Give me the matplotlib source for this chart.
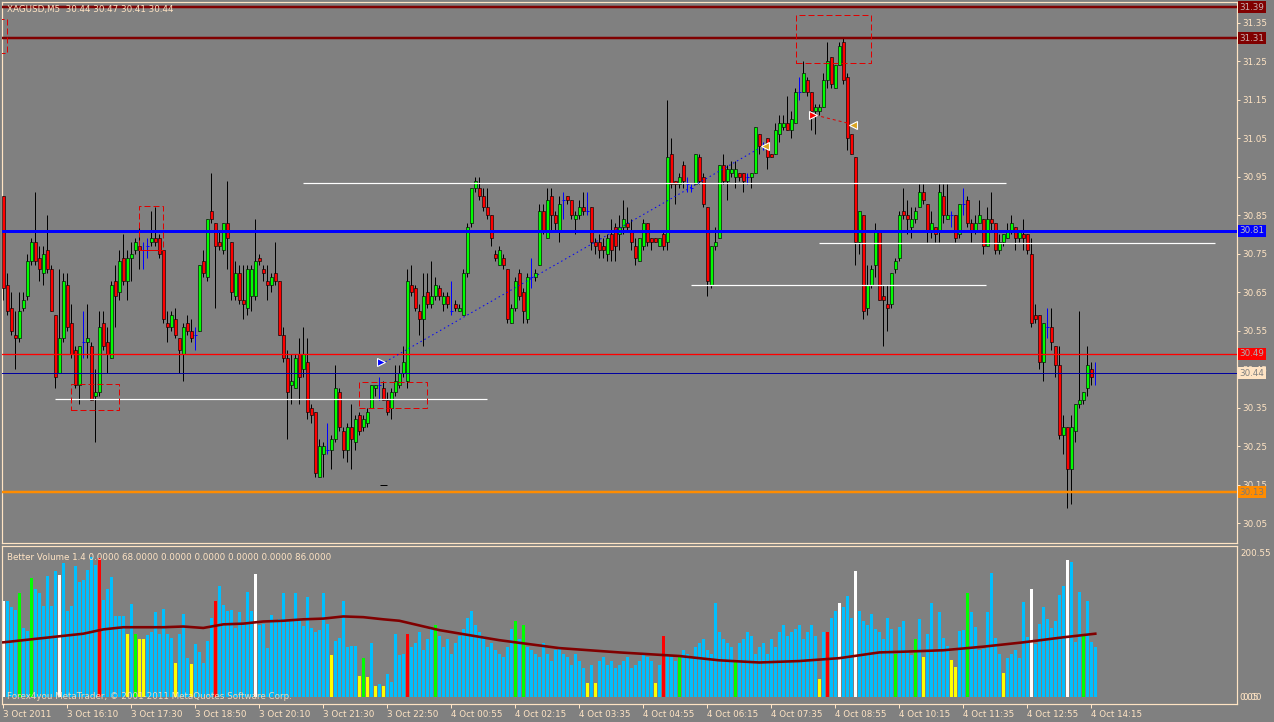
import matplotlib
matplotlib.use('Agg')
import matplotlib.pyplot as plt
from matplotlib.transforms import blended_transform_factory
from matplotlib.patches import Rectangle

# ---------------- DATA ----------------
opens = [30.90,30.67,30.61,30.54,30.53,30.61,30.64,30.73,30.78,30.74,
         30.70,30.76,30.71,30.59,30.44,30.53,30.67,30.57,30.50,30.41,
         30.52,30.52,30.51,30.38,30.39,30.57,30.52,30.48,30.68,30.65,
         30.74,30.68,30.74,30.76,30.77,30.76,30.77,30.78,30.79,30.79,
         30.76,30.57,30.56,30.58,30.53,30.49,30.57,30.55,30.54,30.55,
         30.73,30.69,30.86,30.83,30.78,30.76,30.83,30.78,30.64,30.70,
         30.63,30.61,30.64,30.64,30.74,30.71,30.68,30.67,30.70,30.68,
         30.54,30.48,30.41,30.40,30.49,30.45,30.47,30.35,30.34,30.17,
         30.23,30.24,30.24,30.27,30.39,30.29,30.24,30.30,30.26,30.33,
         30.30,30.31,30.35,30.40,30.41,30.40,30.37,30.35,30.39,30.41,
         30.44,30.42,30.67,30.66,30.60,30.58,30.65,30.62,30.64,30.66,
         30.62,30.64,30.60,30.62,30.60,30.59,30.70,30.83,30.92,30.92,
         30.90,30.87,30.85,30.75,30.72,30.74,30.71,30.57,30.61,30.70,
         30.65,30.58,30.69,30.69,30.72,30.86,30.79,30.90,30.85,30.81,
         30.89,30.90,30.89,30.84,30.85,30.87,30.86,30.87,30.78,30.78,
         30.77,30.75,30.80,30.82,30.80,30.82,30.83,30.81,30.77,30.73,
         30.77,30.83,30.79,30.79,30.77,30.80,30.78,31.01,30.94,30.93,
         30.98,30.93,30.92,30.93,31.00,30.95,30.87,30.67,30.77,30.79,
         30.98,30.94,30.96,30.95,30.96,30.96,30.95,30.95,30.96,31.06,
         31.03,31.05,31.01,31.01,31.06,31.08,31.09,31.07,31.09,31.17,
         31.17,31.20,31.17,31.12,31.12,31.13,31.20,31.26,31.18,31.24,
         31.30,31.21,31.06,31.00,30.78,30.85,30.61,30.67,30.72,30.81,
         30.64,30.62,30.62,30.71,30.74,30.86,30.85,30.82,30.84,30.87,
         30.91,30.88,30.81,30.82,30.81,30.90,30.84,30.85,30.85,30.80,
         30.88,30.89,30.83,30.81,30.83,30.84,30.77,30.84,30.83,30.76,
         30.78,30.79,30.81,30.82,30.79,30.80,30.80,30.75,30.59,30.59,
         30.47,30.56,30.56,30.51,30.46,30.28,30.30,30.19,30.29,30.36,
         30.37,30.40,30.45,30.44]
highs = [30.90,30.70,30.65,30.60,30.65,30.65,30.75,30.79,30.91,30.77,
         30.77,30.85,30.72,30.59,30.71,30.70,30.70,30.62,30.51,30.51,
         30.60,30.62,30.52,30.45,30.60,30.60,30.56,30.68,30.72,30.76,
         30.80,30.76,30.78,30.79,30.83,30.78,30.79,30.86,30.87,30.80,
         30.76,30.60,30.60,30.61,30.53,30.57,30.59,30.58,30.56,30.72,
         30.76,30.84,30.96,30.83,30.81,30.83,30.94,30.78,30.73,30.72,
         30.72,30.72,30.72,30.84,30.75,30.72,30.72,30.70,30.78,30.68,
         30.56,30.50,30.49,30.49,30.53,30.56,30.53,30.36,30.34,30.27,
         30.26,30.31,30.28,30.46,30.40,30.30,30.31,30.36,30.33,30.34,
         30.33,30.35,30.41,30.41,30.43,30.42,30.39,30.40,30.46,30.46,
         30.51,30.71,30.72,30.67,30.62,30.70,30.70,30.73,30.69,30.67,
         30.65,30.65,30.68,30.63,30.62,30.71,30.83,30.92,30.95,30.95,
         30.92,30.92,30.85,30.76,30.77,30.75,30.71,30.62,30.69,30.71,
         30.66,30.70,30.74,30.71,30.88,30.88,30.92,30.92,30.86,30.90,
         30.91,30.90,30.89,30.86,30.89,30.91,30.91,30.87,30.79,30.80,
         30.79,30.80,30.84,30.83,30.85,30.89,30.87,30.84,30.79,30.79,
         30.84,30.83,30.79,30.79,30.79,30.81,31.15,31.05,30.94,30.96,
         30.99,30.95,30.93,31.01,31.01,30.96,30.87,30.77,30.82,30.98,
         31.01,30.98,30.99,30.99,30.96,30.96,30.96,30.96,31.08,31.06,
         31.04,31.05,31.01,31.09,31.11,31.11,31.16,31.12,31.18,31.21,
         31.25,31.21,31.17,31.14,31.14,31.22,31.30,31.26,31.24,31.30,
         31.31,31.22,31.06,31.00,30.86,30.85,30.72,30.72,30.83,30.81,
         30.67,30.67,30.70,30.74,30.86,30.92,30.89,30.87,30.87,30.93,
         30.93,30.88,30.86,30.82,30.93,30.93,30.93,30.86,30.85,30.88,
         30.92,30.90,30.84,30.85,30.89,30.84,30.87,30.91,30.83,30.80,
         30.80,30.83,30.85,30.82,30.81,30.84,30.80,30.79,30.62,30.59,
         30.57,30.61,30.61,30.51,30.51,30.33,30.30,30.33,30.36,30.60,
         30.39,30.51,30.47,30.47]
lows = [30.63,30.59,30.54,30.45,30.52,30.60,30.63,30.72,30.72,30.68,
        30.67,30.70,30.60,30.40,30.44,30.52,30.55,30.48,30.40,30.36,
        30.48,30.48,30.37,30.26,30.38,30.50,30.44,30.48,30.56,30.63,
        30.67,30.63,30.68,30.75,30.71,30.71,30.74,30.77,30.77,30.74,
        30.57,30.52,30.55,30.53,30.44,30.42,30.54,30.52,30.50,30.55,
        30.69,30.68,30.83,30.61,30.76,30.75,30.71,30.63,30.63,30.62,
        30.58,30.59,30.60,30.63,30.72,30.68,30.63,30.65,30.67,30.54,
        30.47,30.27,30.36,30.40,30.36,30.43,30.32,30.31,30.17,30.17,
        30.17,30.23,30.19,30.26,30.29,30.22,30.21,30.19,30.24,30.28,
        30.29,30.30,30.35,30.38,30.37,30.37,30.33,30.32,30.38,30.40,
        30.43,30.40,30.64,30.60,30.54,30.51,30.61,30.61,30.63,30.63,
        30.60,30.61,30.59,30.60,30.60,30.59,30.69,30.82,30.91,30.89,
        30.86,30.84,30.77,30.73,30.72,30.71,30.57,30.57,30.60,30.63,
        30.57,30.57,30.66,30.68,30.72,30.80,30.79,30.81,30.81,30.78,
        30.84,30.88,30.84,30.80,30.84,30.85,30.85,30.76,30.75,30.74,
        30.74,30.73,30.73,30.73,30.76,30.80,30.81,30.76,30.72,30.73,
        30.76,30.77,30.76,30.78,30.77,30.76,30.76,30.92,30.88,30.92,
        30.92,30.91,30.91,30.93,30.93,30.87,30.64,30.66,30.76,30.79,
        30.93,30.89,30.95,30.92,30.94,30.91,30.93,30.92,30.96,31.01,
        31.02,30.97,31.00,31.01,31.04,31.07,31.07,31.05,31.09,31.15,
        31.17,31.16,31.07,31.06,31.11,31.13,31.18,31.18,31.18,31.24,
        31.19,31.02,31.01,30.72,30.75,30.58,30.59,30.66,30.69,30.63,
        30.51,30.55,30.61,30.70,30.73,30.84,30.80,30.79,30.83,30.87,
        30.88,30.78,30.79,30.78,30.78,30.83,30.84,30.82,30.78,30.79,
        30.85,30.82,30.78,30.80,30.83,30.75,30.77,30.81,30.75,30.75,
        30.77,30.79,30.80,30.76,30.78,30.76,30.75,30.56,30.57,30.45,
        30.42,30.53,30.50,30.43,30.27,30.23,30.09,30.10,30.26,30.35,
        30.36,30.38,30.41,30.41]
closes = [30.66,30.60,30.55,30.53,30.60,30.63,30.73,30.78,30.73,30.71,
          30.75,30.71,30.60,30.43,30.53,30.68,30.56,30.49,30.41,30.51,
          30.52,30.53,30.37,30.39,30.56,30.51,30.49,30.67,30.64,30.73,
          30.68,30.74,30.75,30.78,30.76,30.76,30.77,30.79,30.78,30.75,
          30.58,30.56,30.59,30.54,30.50,30.56,30.55,30.53,30.54,30.72,
          30.70,30.84,30.84,30.77,30.77,30.83,30.79,30.65,30.70,30.63,
          30.62,30.71,30.71,30.73,30.73,30.70,30.67,30.69,30.68,30.54,
          30.48,30.39,30.42,30.48,30.43,30.49,30.34,30.33,30.18,30.25,
          30.25,30.24,30.27,30.40,30.30,30.24,30.30,30.27,30.32,30.29,
          30.32,30.34,30.41,30.41,30.41,30.37,30.34,30.39,30.42,30.44,
          30.47,30.68,30.65,30.61,30.58,30.64,30.62,30.64,30.67,30.64,
          30.64,30.62,30.60,30.61,30.61,30.70,30.82,30.92,30.94,30.90,
          30.87,30.85,30.79,30.74,30.76,30.72,30.58,30.61,30.68,30.64,
          30.60,30.69,30.69,30.70,30.86,30.81,30.89,30.85,30.83,30.88,
          30.89,30.89,30.85,30.85,30.87,30.86,30.86,30.78,30.77,30.76,
          30.76,30.79,30.76,30.77,30.82,30.84,30.82,30.78,30.74,30.79,
          30.83,30.78,30.78,30.78,30.79,30.77,31.00,30.93,30.93,30.95,
          30.94,30.93,30.92,31.01,30.94,30.88,30.68,30.77,30.78,30.98,
          30.94,30.97,30.97,30.97,30.95,30.94,30.95,30.96,31.08,31.03,
          31.03,31.00,31.00,31.07,31.09,31.09,31.07,31.10,31.17,31.17,
          31.22,31.17,31.12,31.13,31.13,31.20,31.25,31.19,31.24,31.29,
          31.20,31.05,31.01,30.78,30.86,30.60,30.67,30.71,30.81,30.63,
          30.63,30.61,30.70,30.73,30.85,30.85,30.84,30.84,30.86,30.91,
          30.89,30.81,30.83,30.80,30.91,30.85,30.85,30.85,30.79,30.88,
          30.88,30.83,30.81,30.83,30.85,30.77,30.84,30.83,30.76,30.78,
          30.80,30.81,30.83,30.79,30.81,30.79,30.76,30.57,30.58,30.47,
          30.57,30.56,30.52,30.46,30.28,30.30,30.19,30.30,30.36,30.37,
          30.39,30.46,30.43,30.44]

volumes = [134,134,125,121,145,96,92,165,150,144,
           127,168,127,175,170,186,119,127,182,160,
           162,176,194,183,193,135,150,167,112,113,
           113,88,129,88,81,80,86,90,118,88,
           122,88,82,47,88,115,54,46,74,63,
           47,78,110,134,154,128,120,121,96,118,
           102,146,120,171,100,101,68,114,105,108,
           145,106,106,145,108,99,139,96,91,93,
           145,101,59,78,82,133,69,71,71,29,
           54,28,75,16,18,15,32,21,87,58,
           60,88,70,75,90,65,80,95,100,85,
           70,80,60,75,85,95,110,120,100,90,
           85,70,75,65,60,55,70,95,105,80,
           100,70,65,60,55,75,60,50,65,70,
           60,55,45,60,50,40,20,45,20,50,
           55,45,50,40,45,50,55,40,45,50,
           60,55,50,20,45,85,60,55,50,55,
           65,60,55,70,75,80,65,60,130,90,
           80,75,70,50,75,80,90,85,60,70,
           75,60,80,70,90,100,85,90,95,100,
           80,90,100,85,25,90,90,110,120,130,
           125,140,110,175,120,105,100,115,95,90,
           80,110,95,60,98,105,65,58,80,108,
           55,88,130,65,118,82,71,51,42,92,
           93,145,118,98,65,67,118,173,82,60,
           34,54,60,65,54,132,84,150,73,102,
           125,108,96,105,142,154,191,188,77,146,
           86,134,77,70]
white_idx = [0, 14, 63, 209, 213, 257, 266]
green_idx = [4, 7, 33, 90, 108, 128, 130, 169, 183, 223, 228, 241, 270]
red_idx = [24, 53, 101, 165, 206]
yellow_idx = [31, 34, 35, 43, 47, 82, 89, 91, 93, 95, 146, 148, 163, 204,
              230, 237, 238, 250]

ma_idx = [0, 10, 20, 25, 30, 40, 45, 50, 55, 60, 65, 70, 75, 80, 85, 90, 95, 99,
          109, 124, 139, 154, 169, 179, 189, 199, 209, 219, 225, 235, 245, 255, 265, 273]
ma_val = [76, 82, 88, 94, 97, 97, 98, 96, 101, 102, 105, 106, 108, 109, 112, 111, 108, 106,
          93, 79, 68, 62, 57, 51, 48, 50, 54, 62, 63, 65, 70, 76, 83, 88]

time_labels = ["3 Oct 2011", "3 Oct 16:10", "3 Oct 17:30", "3 Oct 18:50", "3 Oct 20:10",
               "3 Oct 21:30", "3 Oct 22:50", "4 Oct 00:55", "4 Oct 02:15", "4 Oct 03:35",
               "4 Oct 04:55", "4 Oct 06:15", "4 Oct 07:35", "4 Oct 08:55", "4 Oct 10:15",
               "4 Oct 11:35", "4 Oct 12:55", "4 Oct 14:15"]
price_ticks = [30.05, 30.15, 30.25, 30.35, 30.45, 30.55, 30.65, 30.75, 30.85, 30.95,
               31.05, 31.15, 31.25, 31.35]

# horizontal price levels: (price, colour, width px, label bg, label text colour)
levels = [(31.39, '#800000', 2.5, '#800000', '#C8B0B0'),
          (31.31, '#800000', 2.5, '#800000', '#C8B0B0'),
          (30.81, '#0000FF', 3, '#0000FF', '#C0C0C0'),
          (30.49, '#FF0000', 1.3, '#FF0000', '#B0B0B0'),
          (30.44, '#0000A0', 1, '#FFE4C4', '#808080'),
          (30.13, '#FF8C00', 2.5, '#FF8C00', '#7A7A7A')]
white_lines = [(30.933, 74.9, 250.7), (30.777, 203.9, 302.9),
               (30.668, 171.9, 245.7), (30.372, 12.9, 120.9)]
rects = [(16.9, 28.9, 30.343, 30.411), (33.9, 39.9, 30.759, 30.874),
         (88.9, 105.9, 30.349, 30.416), (198.2, 216.9, 31.245, 31.370),
         (-3.0, 1.0, 31.272, 31.360)]

# ---------------- FIGURE ----------------
W, H = 1274, 722
BG = '#808080'
FG = '#FFE4C4'
fig = plt.figure(figsize=(W / 100, H / 100), dpi=100)
fig.patch.set_facecolor(BG)
PT = 0.72  # one pixel in points


def fx(px):
    return px / W


def fy(py):
    return 1 - py / H


ax = fig.add_axes([fx(1.7), fy(542.7), fx(1236.7) - fx(1.7), fy(1.7) - fy(542.7)])
axv = fig.add_axes([fx(1.7), fy(704), fx(1236.7) - fx(1.7), fy(546) - fy(704)])

for a in (ax, axv):
    a.set_facecolor(BG)
    for s in a.spines.values():
        s.set_color(FG)
        s.set_linewidth(1.2 * PT)

n = len(closes)
xs = list(range(n))
XMIN, XMAX = -0.4, 308.35
ax.set_xlim(XMIN, XMAX)
ax.set_ylim(29.9994, 31.4045)
axv.set_xlim(XMIN, XMAX)
axv.set_ylim(-9.7, 209.9)

# candles
for i in xs:
    o, h, l, c = opens[i], highs[i], lows[i], closes[i]
    if o == c:
        ax.vlines(i, l, h, color='#0000FF', lw=PT, zorder=3)
        ax.hlines(c, i - 0.4, i + 0.4, color='#0000FF', lw=PT, zorder=3)
    else:
        ax.vlines(i, l, h, color='black', lw=PT, zorder=2)
        col = '#00FF00' if c > o else '#FF0000'
        ax.bar(i, abs(c - o), bottom=min(o, c), width=0.78, color=col,
               edgecolor='black', linewidth=0.6 * PT, zorder=3)

# price levels
for p, col, lw, _, _ in levels:
    ax.axhline(p, color=col, lw=lw * PT, zorder=4)
for p, x0, x1 in white_lines:
    ax.hlines(p, x0, x1, color='white', lw=1.2 * PT, zorder=4)
for x0, x1, y0, y1 in rects:
    ax.add_patch(Rectangle((x0, y0), x1 - x0, y1 - y0, fill=False, ec='#E00000',
                           lw=PT, ls=(0, (6, 3)), zorder=4))
ax.hlines(30.759, 34.5, 39.0, color='#E00000', lw=PT, zorder=4)

# trend lines & arrows
ax.plot([95.5, 189.2], [30.469, 31.025], color='#0000FF', lw=PT, ls=(0, (1.5, 3)), zorder=4)
ax.plot([203.0, 211.5], [31.110, 31.088], color='#E00000', lw=PT, ls=(0, (3, 3)), zorder=4)
ax.plot([94.3], [30.469], marker='>', ms=6, color='#0000FF', mec='white', mew=0.8, zorder=6)
ax.plot([202.3], [31.110], marker='>', ms=6, color='#FF0000', mec='white', mew=0.8, zorder=6)
ax.plot([190.3], [31.03], marker='<', ms=6, color='#DAA520', mec='white', mew=0.8, zorder=6)
ax.plot([212.3], [31.085], marker='<', ms=6, color='#DAA520', mec='white', mew=0.8, zorder=6)
ax.hlines(30.149, 94.2, 95.8, color='black', lw=PT, zorder=4)

# right axis (main)
ax.set_xticks([])
ax.yaxis.tick_right()
ax.set_yticks(price_ticks)
ax.set_yticklabels([f"{p:.2f}" for p in price_ticks])
ax.tick_params(axis='y', colors=FG, labelcolor=FG, length=3 * PT, width=PT,
               labelsize=6.3, pad=2)
bt = blended_transform_factory(ax.transAxes, ax.transData)
for p, _, _, bg, tc in levels:
    ax.text(1.0020, p, f"{p:.2f}", transform=bt, ha='left', va='center', fontsize=6.3,
            color=tc, zorder=10, clip_on=False,
            bbox=dict(boxstyle='square,pad=0.18', fc=bg, ec='none'))

ax.text(0.0045, 0.986, "XAGUSD,M5  30.44 30.47 30.41 30.44", transform=ax.transAxes,
        ha='left', va='center', fontsize=6.3, color=FG, zorder=10)

# volume panel
colors = ['#00BFFF'] * n
for i in white_idx:
    colors[i] = '#FFFFFF'
for i in green_idx:
    colors[i] = '#00FF00'
for i in red_idx:
    colors[i] = '#FF0000'
for i in yellow_idx:
    colors[i] = '#FFFF00'
axv.bar(xs, volumes, width=0.75, color=colors, linewidth=0, zorder=2)
axv.plot(ma_idx, ma_val, color='#800000', lw=2.6 * PT, zorder=3)

axv.yaxis.tick_right()
axv.set_yticks([200.55])
axv.set_yticklabels(["200.55"])
axv.tick_params(axis='y', colors=FG, labelcolor=FG, length=0, labelsize=6.3, pad=3)
bv = blended_transform_factory(axv.transAxes, axv.transData)
axv.text(1.0025, 0.0, "0.05", transform=bv, ha='left', va='center', fontsize=6.3,
         color=FG, clip_on=False)
axv.text(1.0045, 0.0, "0.00", transform=bv, ha='left', va='center', fontsize=6.3,
         color=FG, clip_on=False)

tick_pos = [16 * k for k in range(len(time_labels))]
axv.set_xticks(tick_pos)
axv.set_xticklabels(time_labels, ha='left')
axv.tick_params(axis='x', colors=FG, labelcolor=FG, length=4 * PT, width=PT,
                labelsize=6.3, pad=1.5, direction='out')

axv.text(0.0045, 0.93, "Better Volume 1.4 0.0000 68.0000 0.0000 0.0000 0.0000 0.0000 86.0000",
         transform=axv.transAxes, ha='left', va='center', fontsize=6.3, color=FG, zorder=10)
axv.text(0.0045, 0.045, "Forex4you MetaTrader, \u00a9 2001-2011 MetaQuotes Software Corp.",
         transform=axv.transAxes, ha='left', va='center', fontsize=6.3, color=FG,
         alpha=0.85, zorder=10)

fig.savefig('out.png', dpi=100, facecolor=BG)
